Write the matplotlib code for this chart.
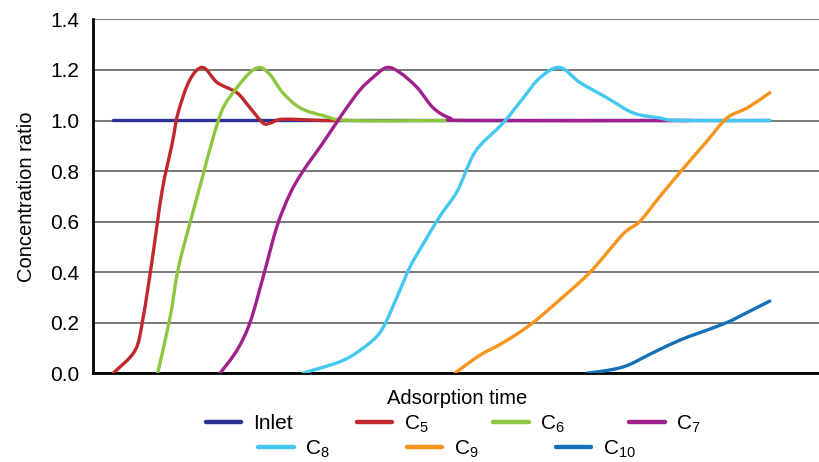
import matplotlib
matplotlib.use("Agg")
import matplotlib.pyplot as plt
from matplotlib.path import Path
from matplotlib.patches import PathPatch
from matplotlib.lines import Line2D

plt.rcParams["font.family"] = ["Liberation Sans", "DejaVu Sans"]
plt.rcParams["mathtext.fontset"] = "custom"
plt.rcParams["mathtext.rm"] = "Liberation Sans"

# Breakthrough curves: adsorption time (arbitrary units) vs concentration ratio
inlet_t = [2.8, 93.1]
inlet_c = [1.0, 1.0]

c5_t = [2.8, 5.8, 6.9, 8.1, 9.5, 10.9, 11.7, 13.3, 15.1, 17.1, 19.8, 21.6, 23.4, 24.4, 26.1, 31.6, 34.0]
c5_c = [0.0, 0.09, 0.22, 0.44, 0.72, 0.91, 1.03, 1.16, 1.21, 1.15, 1.11, 1.05, 0.99, 0.99, 1.005, 1.0, 1.0]

c6_t = [8.9, 10.6, 11.7, 13.3, 15.1, 16.5, 17.9, 19.8, 21.6, 23.0, 24.4, 26.1, 28.5, 31.6, 35.4, 49.1]
c6_c = [0.0, 0.22, 0.41, 0.59, 0.78, 0.93, 1.05, 1.13, 1.19, 1.21, 1.18, 1.11, 1.05, 1.02, 1.0, 1.0]

c7_t = [17.5, 19.8, 21.6, 23.4, 25.3, 27.1, 28.9, 31.6, 34.4, 36.7, 38.5, 40.4, 42.2, 44.6, 46.8, 49.1, 51.9, 82.1]
c7_c = [0.0, 0.09, 0.2, 0.38, 0.58, 0.71, 0.80, 0.91, 1.03, 1.12, 1.17, 1.21, 1.19, 1.13, 1.05, 1.01, 1.0, 1.0]

c8_t = [28.9, 34.4, 38.1, 39.9, 41.8, 43.6, 45.4, 47.7, 50.1, 51.9, 53.2, 56.4, 59.2, 61.5, 64.2, 67.0, 70.7, 74.3, 78.0, 80.7, 93.1]
c8_c = [0.0, 0.05, 0.12, 0.18, 0.30, 0.42, 0.51, 0.62, 0.72, 0.84, 0.90, 0.99, 1.09, 1.17, 1.21, 1.15, 1.09, 1.03, 1.01, 1.0, 1.0]

c9_t = [49.8, 53.2, 56.4, 60.1, 63.8, 68.4, 72.9, 75.2, 78.0, 81.2, 84.5, 87.2, 90.0, 93.1]
c9_c = [0.0, 0.07, 0.12, 0.19, 0.28, 0.40, 0.55, 0.60, 0.70, 0.81, 0.92, 1.01, 1.05, 1.11]

c10_t = [68.0, 70.7, 73.5, 77.0, 80.7, 83.5, 87.2, 90.0, 93.1]
c10_c = [0.0, 0.01, 0.03, 0.08, 0.13, 0.16, 0.20, 0.24, 0.285]

series_labels = ["Inlet", r"C$_{\mathregular{5}}$", r"C$_{\mathregular{6}}$", r"C$_{\mathregular{7}}$",
                 r"C$_{\mathregular{8}}$", r"C$_{\mathregular{9}}$", r"C$_{\mathregular{10}}$"]
series_colors = ["#2e3192", "#c1272d", "#8dc63f", "#a0218c", "#45c8f0", "#f7941d", "#1470b8"]

y_ticks = [0.0, 0.2, 0.4, 0.6, 0.8, 1.0, 1.2, 1.4]
y_ticklabels = ["0.0", "0.2", "0.4", "0.6", "0.8", "1.0", "1.2", "1.4"]


def smooth_path(xs, ys):
    """Smoothed line through the points (Catmull-Rom as cubic Bezier segments)."""
    pts = list(zip(xs, ys))
    n = len(pts)
    verts = [pts[0]]
    codes = [Path.MOVETO]
    for i in range(n - 1):
        p0 = pts[i - 1] if i > 0 else pts[i]
        p1 = pts[i]
        p2 = pts[i + 1]
        p3 = pts[i + 2] if i + 2 < n else pts[i + 1]
        c1 = (p1[0] + (p2[0] - p0[0]) / 6.0, p1[1] + (p2[1] - p0[1]) / 6.0)
        c2 = (p2[0] - (p3[0] - p1[0]) / 6.0, p2[1] - (p3[1] - p1[1]) / 6.0)
        verts += [c1, c2, p2]
        codes += [Path.CURVE4] * 3
    return Path(verts, codes)


fig = plt.figure(figsize=(8.2, 4.62), dpi=100)
ax = fig.add_axes([0.1134, 0.1926, 0.8866, 0.7652])

data = [(inlet_t, inlet_c), (c5_t, c5_c), (c6_t, c6_c), (c7_t, c7_c),
        (c8_t, c8_c), (c9_t, c9_c), (c10_t, c10_c)]
handles = []
for (t, c), lab, col in zip(data, series_labels, series_colors):
    patch = PathPatch(smooth_path(t, c), facecolor="none", edgecolor=col, lw=2.4,
                      capstyle="round", joinstyle="round", zorder=3)
    ax.add_patch(patch)
    handles.append(Line2D([], [], color=col, lw=3.2, solid_capstyle="round"))

ax.set_xlim(0, 100)
ax.set_ylim(0, 1.4)
ax.set_xticks([])
ax.set_yticks(y_ticks)
ax.set_yticklabels(y_ticklabels, fontsize=15)
ax.tick_params(axis="y", length=0, pad=10)
ax.yaxis.grid(True, color="#555555", lw=1.1)
ax.set_axisbelow(True)
for side in ("top", "right"):
    ax.spines[side].set_visible(False)
for side in ("left", "bottom"):
    ax.spines[side].set_linewidth(2.0)
    ax.spines[side].set_color("black")

ax.set_ylabel("Concentration ratio", fontsize=14.5, labelpad=10)
fig.text(0.558, 0.138, "Adsorption time", fontsize=14.5, ha="center", va="center")

leg_kw = dict(frameon=False, fontsize=15, handlelength=1.7, handletextpad=0.55,
              borderaxespad=0, borderpad=0)
leg1 = fig.legend(handles[:4], series_labels[:4], ncol=4, loc="center",
                  bbox_to_anchor=(0.553, 0.082), columnspacing=3.1, **leg_kw)
leg2 = fig.legend(handles[4:], series_labels[4:], ncol=3, loc="center",
                  bbox_to_anchor=(0.545, 0.027), columnspacing=3.7, **leg_kw)

fig.savefig("out.png", dpi=100)
